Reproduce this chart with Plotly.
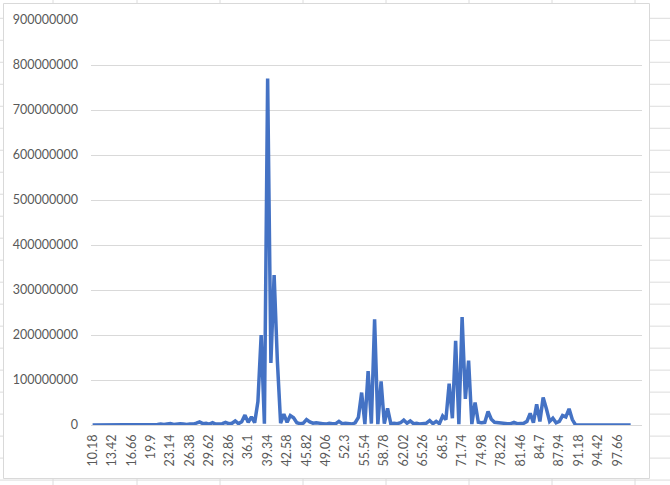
import plotly.graph_objects as go

# ---- data (values in millions) ----
values_millions = [
    0, 0, 0, 0, 0, 0, 0, 0, 0, 0, 0, 0, 0, 0, 0, 0, 0, 0, 0, 0,
    1, 2, 1, 2, 3, 1, 2, 3, 2, 1, 2, 2, 4, 7, 3, 4, 2, 5, 2, 3,
    3, 6, 3, 4, 9, 3, 7, 22, 6, 18, 5, 52, 200, 3, 770, 138, 333, 142, 4, 24,
    6, 21, 16, 5, 3, 4, 12, 7, 4, 5, 3, 3, 2, 4, 3, 3, 8, 3, 4, 3,
    2, 5, 17, 72, 2, 120, 3, 235, 2, 97, 3, 37, 3, 4, 3, 5, 11, 4, 9, 3,
    4, 2, 3, 4, 10, 3, 8, 3, 20, 12, 92, 15, 187, 2, 240, 58, 143, 2, 50, 6,
    5, 6, 30, 13, 6, 5, 4, 3, 3, 3, 6, 3, 3, 4, 8, 26, 5, 46, 8, 61,
    36, 8, 15, 5, 8, 21, 18, 36, 12,
    0, 0, 0, 0, 0, 0, 0, 0, 0, 0, 0, 0, 0, 0, 0, 0, 0, 0,
]
category_start = 10.18
category_step = 0.54
categories = [round(category_start + category_step * i, 2) for i in range(len(values_millions))]
n_axis_categories = 170  # axis holds 3 trailing blank categories

x_tick_labels = ["10.18", "13.42", "16.66", "19.9", "23.14", "26.38", "29.62", "32.86",
                 "36.1", "39.34", "42.58", "45.82", "49.06", "52.3", "55.54", "58.78",
                 "62.02", "65.26", "68.5", "71.74", "74.98", "78.22", "81.46", "84.7",
                 "87.94", "91.18", "94.42", "97.66"]
x_tick_vals = [float(t) for t in x_tick_labels]

y_tick_vals = [0, 100000000, 200000000, 300000000, 400000000, 500000000,
               600000000, 700000000, 800000000, 900000000]
y_tick_labels = [str(v) for v in y_tick_vals]

y_values = [v * 1e6 for v in values_millions]

# ---- figure ----
W, H = 670, 485
ML, MR, MT, MB = 91, 28, 20, 60
PW, PH = W - ML - MR, H - MT - MB


def px_x(px):
    return (px - ML) / PW


def px_y(py):
    return 1 - (py - MT) / PH


fig = go.Figure()
fig.add_trace(go.Scatter(
    x=categories, y=y_values, mode="lines",
    line=dict(color="#4472C4", width=3.5),
    hoverinfo="skip", showlegend=False,
))

shapes = []
sheet_line = "#dcdcdc"
for vx in [53, 137, 220, 303, 386, 469, 552, 635]:
    shapes.append(dict(type="line", xref="paper", yref="paper", layer="below",
                       x0=px_x(vx), x1=px_x(vx), y0=px_y(0), y1=px_y(H),
                       line=dict(color=sheet_line, width=1)))
for k in range(22):
    hy = 18.3 + 21.99 * k
    shapes.append(dict(type="line", xref="paper", yref="paper", layer="below",
                       x0=px_x(0), x1=px_x(W), y0=px_y(hy), y1=px_y(hy),
                       line=dict(color=sheet_line, width=1)))
shapes.append(dict(type="rect", xref="paper", yref="paper", layer="below",
                   x0=px_x(3.5), x1=px_x(649.5), y0=px_y(3.5), y1=px_y(478.5),
                   fillcolor="white", line=dict(color="#d9d9d9", width=1)))

half = category_step / 2
fig.update_layout(
    width=W, height=H,
    margin=dict(l=ML, r=MR, t=MT, b=MB, pad=0),
    paper_bgcolor="white", plot_bgcolor="rgba(0,0,0,0)",
    font=dict(family="Lato, 'Open Sans', sans-serif", size=12.5, color="#595959"),
    shapes=shapes,
    xaxis=dict(
        range=[category_start - half, category_start + category_step * (n_axis_categories - 1) + half],
        tickmode="array", tickvals=x_tick_vals, ticktext=x_tick_labels,
        tickangle=-90, showgrid=False, zeroline=False, showline=False,
        ticks="", ticklabelstandoff=6, fixedrange=True,
    ),
    yaxis=dict(
        range=[0, 900000000],
        tickmode="array", tickvals=y_tick_vals, ticktext=y_tick_labels,
        showgrid=True, gridcolor="#d9d9d9", gridwidth=1,
        zeroline=True, zerolinecolor="#d9d9d9", zerolinewidth=1,
        showline=False, ticks="", ticklabelstandoff=12, fixedrange=True,
    ),
)

fig.write_html("out.html", config={"displayModeBar": False},
               post_script="document.body.style.margin='0';")
